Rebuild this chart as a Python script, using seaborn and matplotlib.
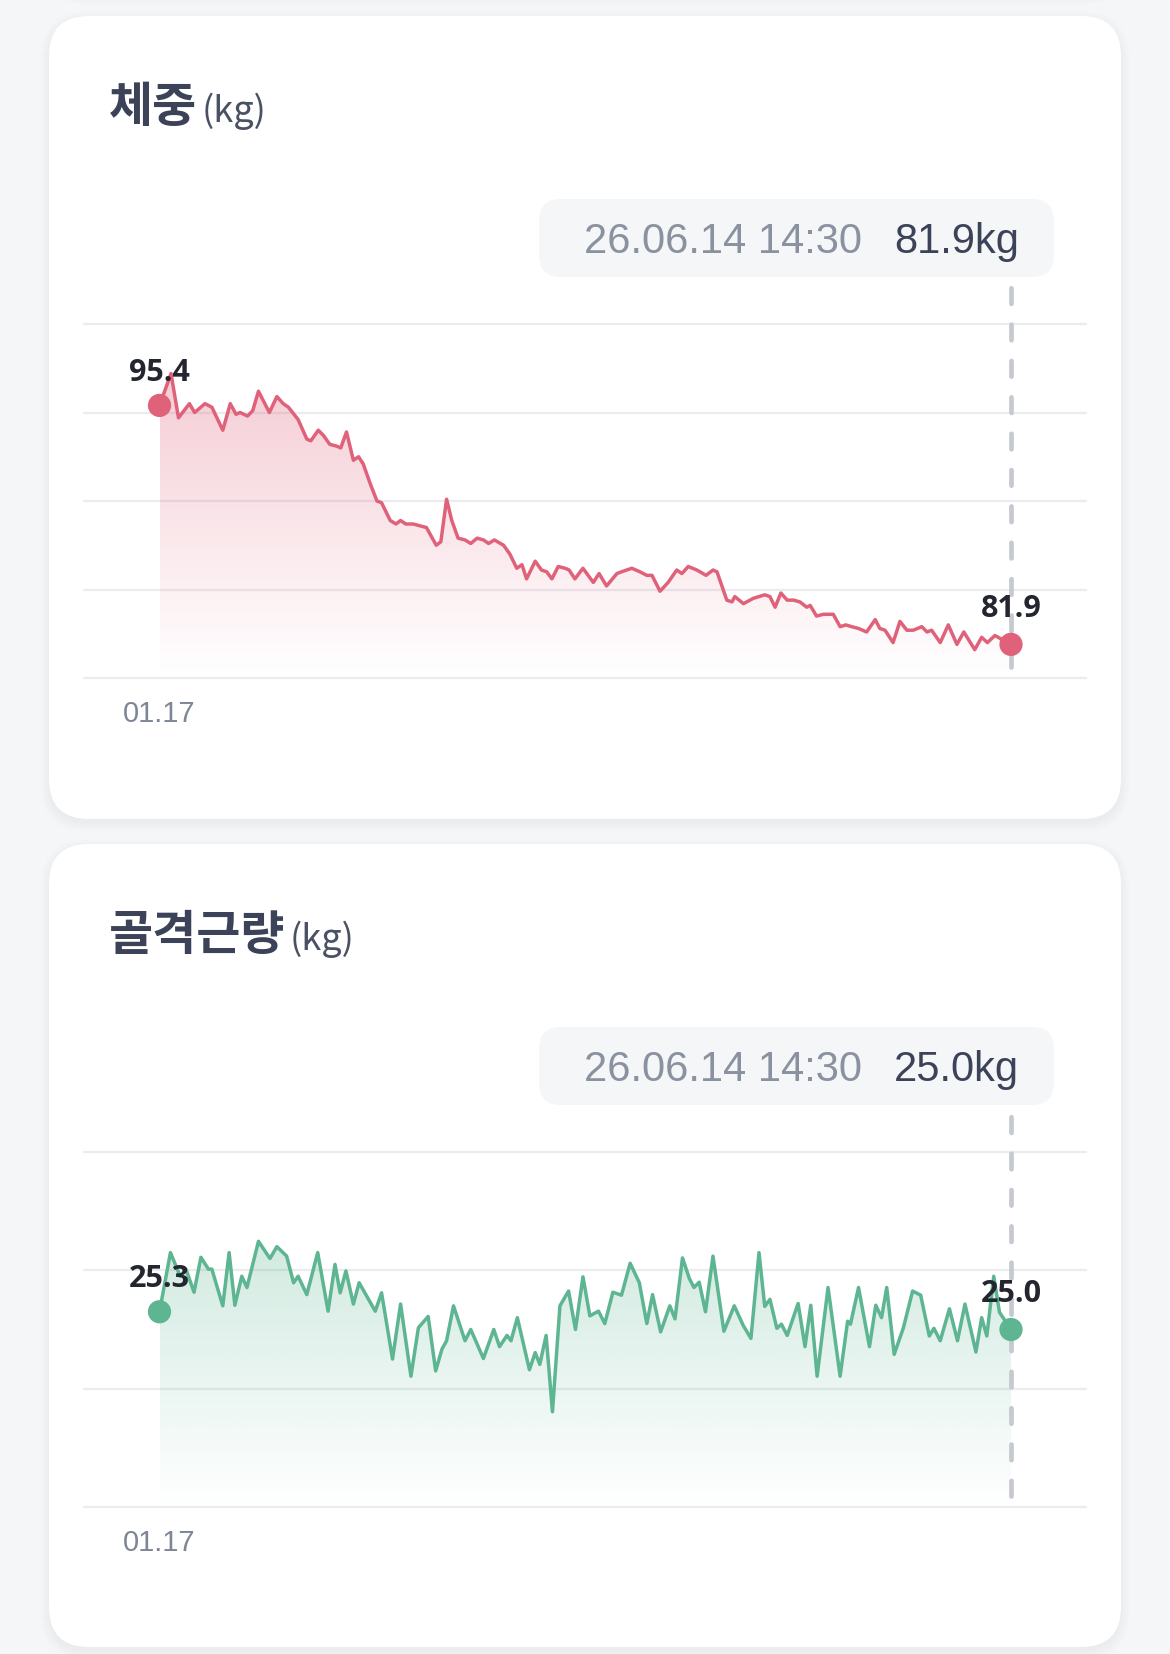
import numpy as np
import seaborn as sns
import matplotlib.pyplot as plt
from matplotlib.patches import FancyBboxPatch, Polygon
from matplotlib.colors import to_rgb

# day offset from 01.17, weight (kg)
w_day = [0, 2.0, 3.3, 5.2, 6.1, 7.9, 9.1, 11.0, 12.3, 13.3,
         14.0, 15.3, 16.2, 17.2, 19.1, 20.4, 21.5, 22.4, 24.1, 25.6,
         26.3, 27.6, 28.5, 29.6, 30.8, 31.5, 32.5, 33.7, 34.6, 35.4,
         36.6, 37.8, 38.6, 40.1, 41.1, 41.9, 42.8, 44.1, 46.4, 48.1,
         48.9, 49.9, 50.8, 51.9, 53.1, 54.1, 55.2, 56.3, 57.2, 58.2,
         59.8, 60.9, 62.1, 63.0, 63.8, 65.3, 66.4, 67.3, 68.2, 69.3,
         70.5, 71.2, 72.2, 73.6, 75.4, 76.4, 77.7, 79.5, 80.3, 82.1,
         83.5, 84.7, 85.6, 87.0, 88.4, 89.9, 90.8, 91.9, 93.4, 95.0,
         96.2, 96.9, 98.6, 99.5, 100.0, 101.5, 103.2, 105.2, 106.1, 107.0,
         108.0, 109.1, 110.2, 111.3, 112.5, 113.1, 114.2, 115.4, 117.1, 118.3,
         119.3, 120.3, 121.5, 122.9, 124.4, 125.2, 126.1, 127.5, 128.7, 129.9,
         131.0, 132.5, 133.4, 134.2, 135.7, 137.1, 138.6, 139.8, 141.7, 142.9,
         143.9, 145.2, 148]
w_kg = [95.4, 97.2, 94.7, 95.5, 95.0, 95.5, 95.3, 94.0, 95.5, 94.9,
        95.0, 94.8, 95.1, 96.2, 95.0, 95.9, 95.5, 95.3, 94.6, 93.5,
        93.4, 94.0, 93.7, 93.2, 93.1, 93.0, 93.9, 92.3, 92.5, 92.1,
        91.0, 90.0, 89.9, 88.9, 88.7, 88.9, 88.7, 88.7, 88.5, 87.5,
        87.7, 90.1, 88.9, 87.9, 87.8, 87.6, 87.9, 87.8, 87.6, 87.8,
        87.5, 87.0, 86.2, 86.4, 85.6, 86.6, 86.1, 86.0, 85.6, 86.3,
        86.2, 86.1, 85.6, 86.2, 85.4, 85.9, 85.2, 85.9, 86.0, 86.2,
        86.0, 85.8, 85.8, 84.9, 85.4, 86.1, 85.9, 86.3, 86.1, 85.8,
        86.1, 86.0, 84.4, 84.3, 84.6, 84.2, 84.5, 84.7, 84.6, 84.0,
        84.8, 84.4, 84.4, 84.3, 84.0, 84.1, 83.5, 83.6, 83.6, 82.9,
        83.0, 82.9, 82.8, 82.6, 83.3, 82.8, 82.7, 82.0, 83.2, 82.7,
        82.7, 82.9, 82.6, 82.7, 82.0, 83.0, 81.9, 82.6, 81.6, 82.3,
        82.0, 82.4, 81.9]

# day offset from 01.17, skeletal muscle mass (kg)
m_day = [0, 1.9, 3.6, 4.6, 6.0, 7.2, 8.5, 9.1, 11.0, 12.1,
         13.1, 14.3, 15.2, 17.2, 19.2, 20.4, 22.1, 23.3, 24.1, 25.6,
         27.5, 29.3, 30.5, 31.4, 32.4, 33.7, 34.7, 37.5, 38.6, 40.5,
         41.9, 43.7, 45.0, 46.7, 48.0, 49.1, 49.9, 51.1, 53.1, 54.1,
         56.3, 58.1, 59.1, 60.4, 61.1, 62.2, 64.3, 65.3, 66.1, 67.2,
         68.3, 69.6, 71.1, 72.3, 73.6, 74.8, 76.3, 77.4, 78.8, 80.3,
         81.8, 83.4, 84.7, 85.7, 87.1, 88.7, 89.6, 90.9, 92.1, 92.9,
         93.8, 94.9, 96.2, 98.1, 99.9, 101.5, 102.8, 104.2, 105.2, 106.1,
         107.3, 108.1, 109.1, 111.0, 112.2, 113.2, 114.3, 116.2, 118.3, 119.6,
         120.1, 121.5, 123.4, 124.5, 125.5, 126.4, 127.7, 129.3, 130.9, 132.3,
         133.8, 134.6, 135.7, 137.3, 138.7, 140.0, 141.9, 142.9, 143.8, 145.0,
         146.0, 148]
m_kg = [25.30, 26.30, 25.90, 26.02, 25.63, 26.22, 26.02, 26.02, 25.40, 26.30,
        25.41, 25.90, 25.71, 26.49, 26.20, 26.40, 26.24, 25.79, 25.90, 25.59,
        26.30, 25.31, 26.10, 25.62, 25.99, 25.43, 25.79, 25.31, 25.62, 24.50,
        25.43, 24.21, 25.03, 25.22, 24.30, 24.67, 24.81, 25.40, 24.81, 25.00,
        24.51, 25.00, 24.71, 24.90, 24.81, 25.20, 24.32, 24.61, 24.41, 24.90,
        23.61, 25.40, 25.65, 25.00, 25.89, 25.23, 25.31, 25.10, 25.63, 25.58,
        26.12, 25.79, 25.10, 25.59, 24.96, 25.40, 25.18, 26.21, 25.86, 25.71,
        25.80, 25.30, 26.24, 24.97, 25.40, 25.06, 24.85, 26.30, 25.39, 25.51,
        25.02, 25.09, 24.90, 25.44, 24.71, 25.41, 24.21, 25.71, 24.21, 25.14,
        25.09, 25.71, 24.71, 25.41, 25.20, 25.71, 24.58, 25.03, 25.65, 25.58,
        24.89, 25.02, 24.81, 25.35, 24.81, 25.43, 24.62, 25.20, 24.89, 25.90,
        25.29, 25.00]

w_grid = [80, 85, 90, 95, 100]
m_grid = [22, 24, 26, 28]
first_label = "01.17"
last_stamp = "26.06.14 14:30"

RED = "#e0627a"
GREEN = "#5db592"
TITLE_C = "#3c4358"

sns.set_theme(style="white")
plt.rcParams["font.family"] = ["Liberation Sans", "Noto Sans CJK KR", "DejaVu Sans"]

W, H = 1170, 1654
fig = plt.figure(figsize=(W / 100, H / 100), dpi=100)
fig.patch.set_facecolor("#f5f6f8")

bg = fig.add_axes([0, 0, 1, 1])
bg.set_xlim(0, W)
bg.set_ylim(H, 0)
bg.axis("off")


def card(y0, y1):
    for i in range(10):
        bg.add_patch(FancyBboxPatch((49 - i, y0 + 4 - i), 1072 + 2 * i, y1 - y0 + 2 * i,
                                    boxstyle=f"round,pad=0,rounding_size={40 + i}",
                                    fc="black", ec="none", alpha=0.005))
    bg.add_patch(FancyBboxPatch((49, y0), 1072, y1 - y0,
                                boxstyle="round,pad=0,rounding_size=40", fc="white", ec="none"))


def gradient_fill(ax, x, y, color, ymin, a_top):
    x = np.asarray(x)
    y = np.asarray(y)
    z = np.zeros((100, 1, 4))
    z[:, :, :3] = to_rgb(color)
    z[:, :, 3] = np.linspace(0.0, a_top, 100)[:, None]
    im = ax.imshow(z, aspect="auto", origin="lower", zorder=1,
                   extent=[x.min(), x.max(), ymin, y.max()])
    verts = np.vstack([[x[0], ymin], np.column_stack([x, y]), [x[-1], ymin]])
    clip = Polygon(verts, closed=True, fc="none", ec="none")
    ax.add_patch(clip)
    im.set_clip_path(clip)


def panel(off, title, title_size, days, vals, grid, color, a_top):
    # card-relative pixel layout; off shifts the second card down
    top, bot = 324 + off, 678 + off + (1 if off else 0)
    bg.text(109, 122 + off, title, fontsize=title_size, fontweight="bold",
            family=["Noto Sans CJK KR"], color=TITLE_C, va="baseline")
    bg.add_patch(FancyBboxPatch((539, 199 + off), 515, 78,
                                boxstyle="round,pad=0,rounding_size=22",
                                fc="#f4f6f8", ec="none"))
    bg.text(584, 253 + off, last_stamp, fontsize=30, color="#8a92a0", va="baseline")
    bg.text(1019, 253 + off, f"{vals[-1]:.1f}kg", fontsize=30, color=TITLE_C,
            ha="right", va="baseline")

    ax = fig.add_axes([84 / W, 1 - bot / H, (1086 - 84) / W, (bot - top) / H])
    ax.patch.set_alpha(0)
    scale = (1011 - 159.5) / days[-1]
    ax.set_xlim(-(159.5 - 84) / scale, days[-1] + (1086 - 1011) / scale)

    for g in grid:
        ax.axhline(g, color="#ebecef", lw=1.6, zorder=0, clip_on=False)

    gradient_fill(ax, days, vals, color, grid[0], a_top)
    sns.lineplot(x=days, y=vals, ax=ax, color=color, linewidth=2.5,
                 estimator=None, sort=False, zorder=3,
                 solid_joinstyle="round", solid_capstyle="round")
    ax.axvline(days[-1], ymin=0.03, ymax=1.105, color="#c6c9d0", lw=3.4,
               dashes=(3.3, 4.4), dash_capstyle="round", clip_on=False, zorder=2)
    ends_x = [days[0], days[-1]]
    ends_y = [vals[0], vals[-1]]
    sns.scatterplot(x=ends_x, y=ends_y, ax=ax, color=color, s=280,
                    edgecolor="none", zorder=5, clip_on=False)
    for (ex, ey), dy in zip(zip(ends_x, ends_y), (17.5, 19.5)):
        ax.annotate(f"{ey:.1f}", xy=(ex, ey), xytext=(0, dy), textcoords="offset points",
                    ha="center", va="baseline", fontsize=22, fontweight="bold",
                    family=["Open Sans", "DejaVu Sans"], color="#23262f", zorder=6,
                    annotation_clip=False)

    ax.set_ylim(grid[0], grid[-1])
    ax.set_aspect("auto")
    ax.set_xticks([0], labels=[first_label])
    ax.set_yticks([])
    ax.tick_params(axis="x", length=0, pad=16, labelsize=21, labelcolor="#7e8695")
    ax.set_xlabel("")
    ax.set_ylabel("")
    sns.despine(ax=ax, left=True, bottom=True)
    return ax


# hint of the card above
card(-200, -8)
card(16, 819)
card(844, 1647)

panel(0, "체중", 34.5, w_day, w_kg, w_grid, RED, 0.32)
panel(828, "골격근량", 34.5, m_day, m_kg, m_grid, GREEN, 0.28)

fig.canvas.draw()
for t in list(bg.texts):
    if t.get_text() in ("체중", "골격근량"):
        bb = t.get_window_extent()
        bg.text(bb.x1 + 4, t.get_position()[1], "(kg)", fontsize=26,
                family=["Noto Sans CJK KR"], color="#4a5163", va="baseline")

fig.savefig("out.png", dpi=100, facecolor=fig.get_facecolor())
